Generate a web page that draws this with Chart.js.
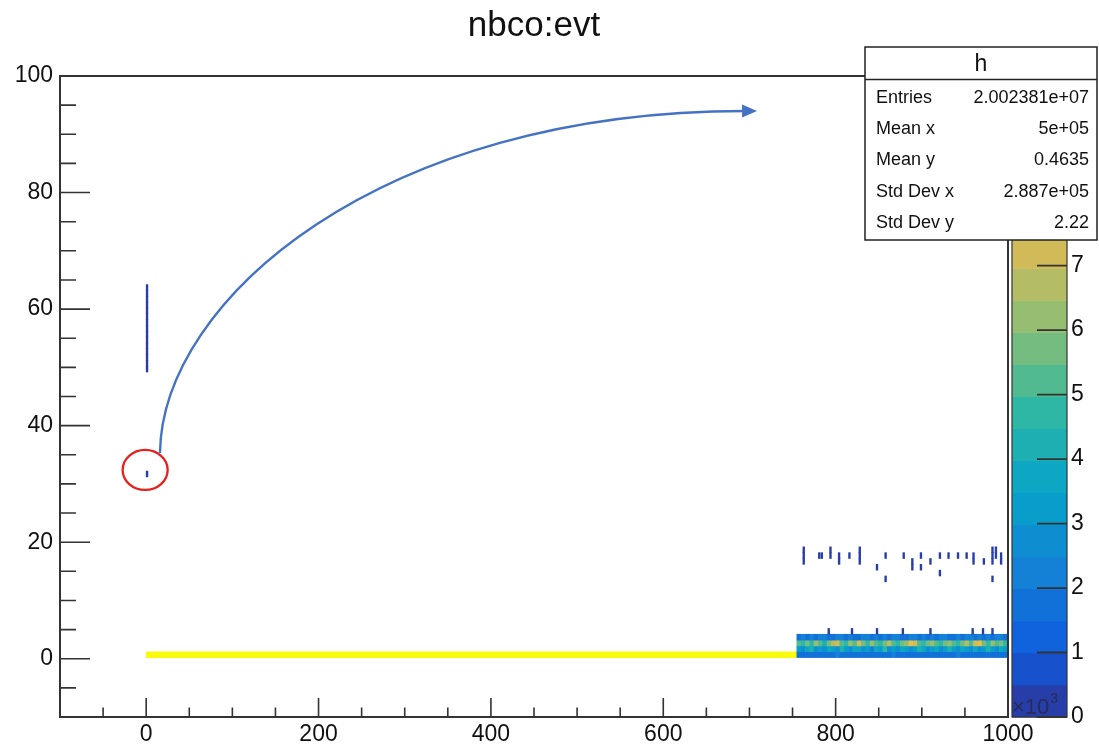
<!DOCTYPE html>
<html>
<head>
<meta charset="utf-8">
<script src="https://cdn.jsdelivr.net/npm/chart.js@4.4.1/dist/chart.umd.min.js"></script>
<style>
  html, body { margin: 0; padding: 0; background: #fff; }
  canvas { display: block; }
</style>
</head>
<body>
<canvas id="c" width="1099" height="747"></canvas>
<script>
// ---------------- histogram "h" : nbco vs evt ----------------
// counts are in units of 10^3 (colour axis is labelled x10^3)
const xTicks = [0, 200, 400, 600, 800, 1000];
const yTicks = [0, 20, 40, 60, 80, 100];
const zTicks = [0, 1, 2, 3, 4, 5, 6, 7, 8, 9];
const zMax = 9.94;

// nbco = 0 plateau over the first part of the run
const plateauStart = 0;
const plateauEnd = 755;
const plateauCount = 9.94;

// evt 755-1000 in 5-wide bins, one array per nbco row
const stripStart = 755;
const stripBin = 5;
const stripNbco0 = [1.6, 1.7, 1.5, 1.8, 1.6, 1.9, 1.5, 1.6, 1.7, 2.1, 1.6, 1.5, 1.8, 1.6, 1.7, 1.5, 1.9, 1.6, 1.6, 1.8, 1.5, 1.7, 2.2, 1.6, 1.5, 1.7, 1.6, 1.8, 1.5, 1.6, 1.9, 1.7, 1.6, 1.5, 1.8, 1.6, 1.7, 2.0, 1.6, 1.5, 1.7, 1.6, 1.8, 1.6, 1.5, 1.9, 1.7, 1.6, 1.6];
const stripNbco1 = [3.2, 2.7, 3.6, 4.1, 2.9, 3.3, 2.5, 3.8, 3.1, 2.8, 4.3, 3.0, 2.6, 3.5, 3.9, 2.8, 3.2, 2.4, 3.7, 3.1, 4.6, 2.9, 3.4, 2.7, 3.8, 3.3, 2.6, 3.0, 4.0, 3.5, 2.8, 3.2, 3.9, 2.7, 3.1, 4.4, 3.0, 2.6, 3.6, 3.3, 2.9, 3.7, 2.5, 3.4, 4.1, 3.0, 2.8, 3.5, 3.2];
const stripNbco2 = [5.1, 4.6, 5.8, 4.9, 6.3, 5.2, 4.4, 5.6, 6.9, 7.4, 5.3, 4.8, 6.1, 5.0, 7.2, 5.5, 4.7, 6.4, 5.1, 4.5, 5.9, 6.6, 5.2, 4.9, 5.7, 6.2, 7.6, 7.1, 5.4, 4.6, 5.8, 6.0, 5.1, 4.8, 5.5, 6.3, 5.0, 4.7, 5.9, 6.5, 5.2, 7.3, 7.8, 5.6, 4.9, 6.1, 5.3, 5.7, 4.8];
const stripNbco3 = [1.9, 2.0, 1.8, 2.1, 1.9, 2.0, 2.2, 1.9, 1.8, 2.0, 2.1, 1.9, 2.0, 1.8, 1.9, 2.1, 2.0, 1.9, 2.2, 1.8, 2.0, 1.9, 2.1, 2.0, 1.8, 1.9, 2.0, 2.1, 1.9, 2.0, 1.8, 2.2, 1.9, 2.0, 2.1, 1.9, 1.8, 2.0, 1.9, 2.1, 2.0, 1.9, 2.2, 1.8, 2.0, 1.9, 2.1, 2.0, 1.9];

// sparse nbco = 4 entries just above the strip
const nbco4Evt = [791, 818, 847, 877, 909, 958, 970, 981];
const nbco4Count = [0.3, 0.3, 0.3, 0.3, 0.3, 0.3, 0.3, 0.3];

// isolated high-nbco entries late in the run
const tailEvt  = [762, 762, 762, 780, 783, 793, 793, 803, 803, 815, 827, 827, 827, 847, 857, 857, 878, 888, 888, 898, 898, 909, 920, 920, 930, 941, 951, 959, 959, 971, 981, 981, 981, 981, 985, 985, 991, 991];
const tailNbco = [16, 17, 18, 17, 17, 17, 18, 16, 17, 17, 16, 17, 18, 15, 17, 13, 17, 15, 16, 17, 15, 16, 17, 14, 17, 17, 17, 16, 17, 16, 16, 17, 18, 13, 17, 18, 16, 17];
const tailCount = 0.3;

// first event: a column of high nbco values
const firstEvt = 0;
const firstNbco  = [49, 50, 51, 52, 53, 54, 55, 56, 57, 58, 59, 60, 61, 62, 63];
const firstCount = [0.1, 0.2, 0.3, 0.3, 0.3, 0.3, 0.3, 0.3, 0.3, 0.3, 0.3, 0.3, 0.3, 0.3, 0.3];
const loneEvt = 0, loneNbco = 31, loneCount = 0.1;

const statNames  = ['Entries', 'Mean x', 'Mean y', 'Std Dev x', 'Std Dev y'];
const statValues = ['2.002381e+07', '5e+05', '0.4635', '2.887e+05', '2.22'];

// ---------------- layout / style ----------------
const W = 1099, H = 747;
const FRAME = { left: 60, top: 76, right: 1008, bottom: 717 };
const X_RANGE = [-100, 1000], Y_RANGE = [-10, 100];
const ROW_SHIFT = 0.2;          // bin edges sit slightly above the integer values
const MARK_W = 2.0;             // width of a single-event column, in evt units
const FONT = '"Liberation Sans", Arial, Helvetica, sans-serif';
const N_CONTOURS = 20;
const rowPx = (FRAME.bottom - FRAME.top) / (Y_RANGE[1] - Y_RANGE[0]);

// kBird palette
const birdStops = [0, 0.125, 0.25, 0.375, 0.5, 0.625, 0.75, 0.875, 1];
const birdR = [0.2082, 0.0592, 0.0780, 0.0232, 0.1802, 0.5301, 0.8186, 0.9956, 0.9764];
const birdG = [0.1664, 0.3599, 0.5041, 0.6419, 0.7178, 0.7492, 0.7328, 0.7862, 0.9832];
const birdB = [0.5293, 0.8684, 0.8385, 0.7914, 0.6425, 0.4662, 0.3499, 0.1968, 0.0539];
function bird(t) {
  t = Math.max(0, Math.min(1, t));
  let i = 0;
  while (i < birdStops.length - 2 && t > birdStops[i + 1]) i++;
  const f = (t - birdStops[i]) / (birdStops[i + 1] - birdStops[i]);
  const c = a => Math.round(255 * (a[i] + (a[i + 1] - a[i]) * f));
  return `rgb(${c(birdR)},${c(birdG)},${c(birdB)})`;
}
function levelColor(l) {
  const idx = Math.floor((l + 0.99) * 255 / N_CONTOURS);
  return bird(Math.min(idx, 254) / 254);
}
function countColor(v) {
  const l = Math.max(0, Math.min(N_CONTOURS - 1, Math.floor(v / zMax * N_CONTOURS)));
  return levelColor(l);
}

// ---------------- cells ----------------
const cells = [];
function addCell(x0, x1, nbco, v) {
  cells.push({ x: [x0, x1], y: nbco + 0.5 + ROW_SHIFT, v: v });
}
addCell(plateauStart, plateauEnd, 0, plateauCount);
[stripNbco0, stripNbco1, stripNbco2, stripNbco3].forEach((row, n) => {
  row.forEach((v, i) => addCell(stripStart + i * stripBin, stripStart + (i + 1) * stripBin, n, v));
});
nbco4Evt.forEach((e, i) => addCell(e, e + MARK_W, 4, nbco4Count[i]));
tailEvt.forEach((e, i) => addCell(e, e + MARK_W, tailNbco[i], tailCount));
firstNbco.forEach((n, i) => addCell(firstEvt, firstEvt + MARK_W, n, firstCount[i]));
addCell(loneEvt, loneEvt + MARK_W, loneNbco, loneCount);

// ---------------- decorations ----------------
const frameTicks = {
  id: 'frameTicks',
  afterDatasetsDraw(chart) {
    const { ctx, chartArea: a, scales: { x, y } } = chart;
    ctx.save();
    ctx.strokeStyle = '#333';
    ctx.lineWidth = 1.6;
    ctx.beginPath();
    for (let v = X_RANGE[0] + 50; v < X_RANGE[1]; v += 50) {
      const px = x.getPixelForValue(v);
      const len = xTicks.includes(v) ? 19 : 9.5;
      ctx.moveTo(px, a.bottom); ctx.lineTo(px, a.bottom - len);
    }
    for (let v = Y_RANGE[0] + 5; v < Y_RANGE[1]; v += 5) {
      const py = y.getPixelForValue(v);
      const len = yTicks.includes(v) ? 30 : 16;
      ctx.moveTo(a.left, py); ctx.lineTo(a.left + len, py);
    }
    ctx.stroke();
    ctx.lineWidth = 2;
    ctx.strokeRect(a.left, a.top, a.right - a.left, a.bottom - a.top);
    ctx.restore();
  }
};

const palette = {
  id: 'palette',
  afterDatasetsDraw(chart) {
    const { ctx, scales: { z } } = chart;
    const x0 = z.left + 4, x1 = z.left + 59;
    ctx.save();
    for (let l = 0; l < N_CONTOURS; l++) {
      const yA = z.getPixelForValue(l * zMax / N_CONTOURS);
      const yB = z.getPixelForValue((l + 1) * zMax / N_CONTOURS);
      ctx.fillStyle = levelColor(l);
      ctx.fillRect(x0, yB, x1 - x0, yA - yB + 0.5);
    }
    ctx.strokeStyle = '#333';
    ctx.lineWidth = 1.2;
    ctx.strokeRect(x0, z.top, x1 - x0, z.bottom - z.top);
    ctx.lineWidth = 1.8;
    ctx.beginPath();
    zTicks.forEach(t => {
      const py = z.getPixelForValue(t);
      ctx.moveTo(x1 - 30, py); ctx.lineTo(x1, py);
    });
    ctx.stroke();
    // exponent label
    ctx.fillStyle = 'rgba(40,40,70,0.85)';
    ctx.textBaseline = 'alphabetic';
    ctx.textAlign = 'left';
    ctx.font = `22px ${FONT}`;
    ctx.fillText('\u00d710', x0, z.bottom - 3);
    const w = ctx.measureText('\u00d710').width;
    ctx.font = `14px ${FONT}`;
    ctx.fillText('3', x0 + w + 1, z.bottom - 14);
    ctx.restore();
  }
};

const statsBox = {
  id: 'statsBox',
  afterDraw(chart) {
    const { ctx } = chart;
    const a = chart.chartArea;
    const bx0 = 865, bx1 = chart.width - 2, by0 = a.top - 29, by1 = 240, hy = 79.5;
    ctx.save();
    ctx.fillStyle = '#fff';
    ctx.fillRect(bx0, by0, bx1 - bx0, by1 - by0);
    ctx.strokeStyle = '#222';
    ctx.lineWidth = 1.5;
    ctx.strokeRect(bx0, by0, bx1 - bx0, by1 - by0);
    ctx.beginPath(); ctx.moveTo(bx0, hy); ctx.lineTo(bx1, hy); ctx.stroke();
    ctx.fillStyle = '#111';
    ctx.textBaseline = 'middle';
    ctx.textAlign = 'center';
    ctx.font = `23px ${FONT}`;
    ctx.fillText('h', (bx0 + bx1) / 2, (by0 + hy) / 2 + 1);
    ctx.font = `18px ${FONT}`;
    statNames.forEach((name, i) => {
      const cy = 98 + i * 31.2;
      ctx.textAlign = 'left';
      ctx.fillText(name, bx0 + 11, cy);
      ctx.textAlign = 'right';
      ctx.fillText(statValues[i], bx1 - 8, cy);
    });
    ctx.restore();
  }
};

const titleText = {
  id: 'titleText',
  afterDraw(chart) {
    const { ctx, chartArea: a } = chart;
    ctx.save();
    ctx.fillStyle = '#111';
    ctx.textAlign = 'center';
    ctx.textBaseline = 'alphabetic';
    ctx.font = `35px ${FONT}`;
    ctx.fillText('nbco:evt', (a.left + a.right) / 2, 36);
    ctx.restore();
  }
};

// arrow from the lone entry towards the upper right, in data units
const ARROW = { p0: [16.0, 35.3], p1: [18.3, 61.6], p2: [271.3, 94.0], p3: [694.9, 94.0], tip: [708.8, 94.0] };
const RING = { c: [-1.2, 32.4], rx: 22.5, ry: 20 };
const callout = {
  id: 'callout',
  afterDraw(chart) {
    const { ctx, scales: { x, y } } = chart;
    const P = p => [x.getPixelForValue(p[0]), y.getPixelForValue(p[1])];
    const [a0, a1, a2, a3, tp] = [ARROW.p0, ARROW.p1, ARROW.p2, ARROW.p3, ARROW.tip].map(P);
    ctx.save();
    ctx.strokeStyle = '#4472c4';
    ctx.fillStyle = '#4472c4';
    ctx.lineWidth = 2.4;
    ctx.beginPath();
    ctx.moveTo(a0[0], a0[1]);
    ctx.bezierCurveTo(a1[0], a1[1], a2[0], a2[1], a3[0], a3[1]);
    ctx.stroke();
    const ang = Math.atan2(tp[1] - a3[1], tp[0] - a3[0]);
    const len = 15, half = 6.5;
    ctx.beginPath();
    ctx.moveTo(tp[0], tp[1]);
    ctx.lineTo(tp[0] - len * Math.cos(ang) + half * Math.sin(ang), tp[1] - len * Math.sin(ang) - half * Math.cos(ang));
    ctx.lineTo(tp[0] - len * Math.cos(ang) - half * Math.sin(ang), tp[1] - len * Math.sin(ang) + half * Math.cos(ang));
    ctx.closePath();
    ctx.fill();
    const c = P(RING.c);
    ctx.strokeStyle = '#e8201c';
    ctx.lineWidth = 2.3;
    ctx.beginPath();
    ctx.ellipse(c[0], c[1], RING.rx, RING.ry, 0, 0, Math.PI * 2);
    ctx.stroke();
    ctx.restore();
  }
};

const tickFont = { family: FONT, size: 23 };
// keep the frame exactly where it belongs: fixed axis sizes, no label overhang padding
const fixSize = (s, dim, val) => {
  s[dim] = val;
  s.paddingTop = 0; s.paddingBottom = 0; s.paddingLeft = 0; s.paddingRight = 0;
};

new Chart(document.getElementById('c'), {
  type: 'bar',
  data: {
    datasets: [{
      label: 'h',
      data: cells,
      backgroundColor: c => countColor(c.raw ? c.raw.v : 0),
      borderWidth: 0,
      borderSkipped: false,
      barThickness: rowPx,
      grouped: false
    }]
  },
  options: {
    indexAxis: 'y',
    responsive: false,
    animation: false,
    events: [],
    layout: { padding: { top: FRAME.top, left: 0, right: 0, bottom: 0 } },
    scales: {
      x: {
        type: 'linear', position: 'bottom', offset: false,
        min: X_RANGE[0], max: X_RANGE[1],
        afterFit: s => fixSize(s, 'height', H - FRAME.bottom),
        afterBuildTicks: s => { s.ticks = xTicks.map(v => ({ value: v })); },
        ticks: { font: tickFont, color: '#111', padding: 4, maxRotation: 0, autoSkip: false, callback: v => String(v) },
        grid: { display: false, drawTicks: false },
        border: { display: false }
      },
      y: {
        type: 'linear', position: 'left', offset: false,
        min: Y_RANGE[0], max: Y_RANGE[1],
        afterFit: s => fixSize(s, 'width', FRAME.left),
        afterBuildTicks: s => { s.ticks = yTicks.map(v => ({ value: v })); },
        ticks: { font: tickFont, color: '#111', padding: 7, autoSkip: false, callback: v => String(v) },
        grid: { display: false, drawTicks: false },
        border: { display: false }
      },
      z: {
        type: 'linear', position: 'right', offset: false,
        min: 0, max: zMax,
        afterFit: s => fixSize(s, 'width', W - FRAME.right),
        afterBuildTicks: s => { s.ticks = zTicks.map(v => ({ value: v })); },
        ticks: { font: tickFont, color: '#111', padding: 63, autoSkip: false, callback: v => String(v) },
        grid: { display: false, drawTicks: false },
        border: { display: false }
      }
    },
    plugins: {
      legend: { display: false },
      tooltip: { enabled: false },
      title: { display: false }
    }
  },
  plugins: [frameTicks, palette, statsBox, titleText, callout]
});
</script>
</body>
</html>
